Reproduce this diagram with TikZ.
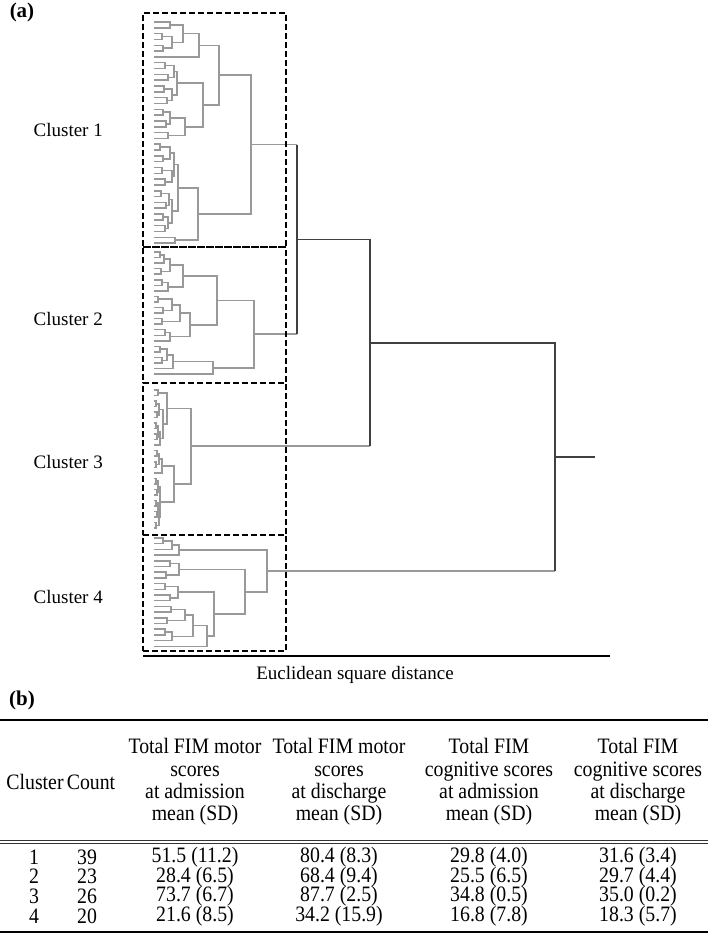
\documentclass[tikz,border=0pt]{standalone}
\usepackage{fontspec}
\setmainfont{Liberation Serif}
\newfontfamily\tabfont{Liberation Serif}[FakeStretch=0.9]
\usetikzlibrary{positioning,fit}

% one merge of the dendrogram: bar x, then top child (x,y) and bottom child (x,y)
\newcommand{\dlink}[5]{\draw[dend] (#2,#3) -- (#1,#3) -- (#1,#5) -- (#4,#5);}

\begin{document}
\begin{tikzpicture}[
  x=0.5pt, y=-0.5pt,
  font=\fontsize{9.5}{11}\selectfont,
  dend/.style={draw=gray!80, line width=0.75pt},
  trunk/.style={draw=black!75, line width=0.6pt},
  cbox/.style={draw, dash pattern=on 3pt off 1.5pt, line width=0.8pt, inner sep=0pt},
  clabel/.style={inner sep=0pt},
  panel/.style={font=\fontsize{10.5}{12}\selectfont\bfseries},
  head/.style={align=center, font=\tabfont\fontsize{11}{11.15}\selectfont},
  tcell/.style={font=\tabfont\fontsize{11}{12}\selectfont},
  rulethick/.style={line width=1pt},
  rulethin/.style={line width=0.45pt, black!80},
]
\useasboundingbox (0,0) rectangle (708,936);

\node[panel] (pa) at (22,12) {(a)};

% cluster 1
\dlink{170}{154}{22.0}{154}{27.8}
\dlink{162}{154}{33.6}{154}{39.5}
\dlink{163}{154}{45.3}{154}{51.1}
\dlink{172}{162}{36.6}{163}{48.2}
\dlink{183}{170}{24.9}{172}{42.4}
\dlink{199}{183}{33.6}{154}{56.9}
\dlink{165}{154}{62.7}{154}{68.6}
\dlink{168}{154}{74.4}{154}{80.2}
\dlink{174}{165}{65.6}{168}{77.3}
\dlink{164}{154}{86.0}{154}{91.8}
\dlink{167}{154}{97.7}{154}{103.5}
\dlink{172}{164}{88.9}{167}{100.6}
\dlink{177}{174}{71.5}{172}{94.8}
\dlink{163}{154}{109.3}{154}{115.1}
\dlink{166}{154}{120.9}{154}{126.8}
\dlink{170}{163}{112.2}{166}{123.9}
\dlink{168}{154}{132.6}{154}{138.4}
\dlink{185}{170}{118.0}{168}{135.5}
\dlink{203}{177}{83.2}{185}{126.8}
\dlink{219}{199}{45.3}{203}{105.0}
\dlink{160}{154}{144.2}{154}{150.0}
\dlink{163}{154}{155.9}{154}{161.7}
\dlink{170}{160}{147.1}{163}{158.8}
\dlink{162}{154}{167.5}{154}{173.3}
\dlink{165}{154}{179.1}{154}{185.0}
\dlink{172}{162}{170.4}{165}{182.0}
\dlink{174}{170}{153.0}{172}{176.2}
\dlink{161}{154}{190.8}{154}{196.6}
\dlink{166}{154}{202.4}{154}{208.2}
\dlink{169}{161}{193.7}{166}{205.3}
\dlink{163}{154}{214.1}{154}{219.9}
\dlink{165}{154}{225.7}{154}{231.5}
\dlink{168}{163}{217.0}{165}{228.6}
\dlink{172}{169}{199.5}{168}{222.8}
\dlink{178}{174}{164.6}{172}{211.2}
\dlink{175}{154}{237.3}{154}{243.1}
\dlink{198}{178}{187.9}{175}{240.2}
\dlink{251}{219}{75.2}{198}{214.1}

% cluster 2
\dlink{160}{154}{252.0}{154}{257.6}
\dlink{164}{160}{254.8}{154}{263.1}
\dlink{161}{154}{268.7}{154}{274.2}
\dlink{170}{164}{259.0}{161}{271.5}
\dlink{162}{154}{279.8}{154}{285.3}
\dlink{168}{162}{282.6}{154}{290.9}
\dlink{183}{170}{265.2}{168}{286.8}
\dlink{158}{154}{296.4}{154}{302.0}
\dlink{163}{154}{307.5}{154}{313.1}
\dlink{172}{158}{299.2}{163}{310.3}
\dlink{162}{154}{318.6}{154}{324.2}
\dlink{180}{172}{304.8}{162}{321.4}
\dlink{165}{154}{329.7}{154}{335.3}
\dlink{170}{165}{332.5}{154}{340.8}
\dlink{190}{180}{313.1}{170}{336.7}
\dlink{217}{183}{276.0}{190}{324.9}
\dlink{160}{154}{346.4}{154}{351.9}
\dlink{162}{154}{357.5}{154}{363.0}
\dlink{167}{160}{349.2}{162}{360.3}
\dlink{173}{167}{354.8}{154}{368.6}
\dlink{213}{173}{361.7}{154}{374.1}
\dlink{254}{217}{300.5}{213}{367.9}

% cluster 3
\dlink{158}{154}{390.0}{154}{395.5}
\dlink{156}{154}{401.0}{154}{406.6}
\dlink{157}{154}{412.1}{154}{417.6}
\dlink{159}{156}{403.8}{157}{414.9}
\dlink{156}{154}{423.1}{154}{428.6}
\dlink{157}{154}{434.2}{154}{439.7}
\dlink{158}{156}{425.9}{157}{437.0}
\dlink{160}{158}{431.5}{154}{445.2}
\dlink{163}{159}{409.4}{160}{438.4}
\dlink{167}{158}{392.8}{163}{423.9}
\dlink{157}{154}{450.7}{154}{456.2}
\dlink{156}{154}{461.8}{154}{467.3}
\dlink{159}{157}{453.5}{156}{464.6}
\dlink{162}{159}{459.1}{154}{472.8}
\dlink{156}{154}{478.3}{154}{483.8}
\dlink{157}{154}{489.4}{154}{494.9}
\dlink{158}{156}{481.1}{157}{492.2}
\dlink{156}{154}{500.4}{154}{505.9}
\dlink{157}{154}{511.4}{154}{517.0}
\dlink{158}{156}{503.2}{157}{514.2}
\dlink{156}{154}{522.5}{154}{528.0}
\dlink{159}{158}{508.7}{156}{525.3}
\dlink{160}{158}{486.7}{159}{517.0}
\dlink{174}{162}{466.0}{160}{501.9}
\dlink{191}{167}{408.4}{174}{484.0}

% cluster 4
\dlink{163}{154}{538.0}{154}{543.7}
\dlink{172}{163}{540.9}{154}{549.4}
\dlink{179}{172}{545.2}{154}{555.1}
\dlink{170}{154}{560.8}{154}{566.5}
\dlink{166}{154}{572.2}{154}{577.9}
\dlink{179}{170}{563.7}{166}{575.1}
\dlink{165}{154}{583.6}{154}{589.3}
\dlink{170}{154}{595.0}{154}{600.7}
\dlink{178}{165}{586.5}{170}{597.9}
\dlink{171}{154}{606.4}{154}{612.1}
\dlink{167}{154}{617.8}{154}{623.5}
\dlink{185}{171}{609.3}{167}{620.7}
\dlink{165}{154}{629.2}{154}{634.9}
\dlink{172}{165}{632.1}{154}{640.6}
\dlink{193}{185}{615.0}{172}{636.4}
\dlink{207}{193}{625.7}{154}{646.3}
\dlink{214}{178}{592.2}{207}{636.0}
\dlink{245}{179}{569.4}{214}{614.1}
\dlink{267}{179}{550.2}{245}{591.8}

% joins between the clusters
\draw[dend] (251,144.7) -- (297,144.7);
\draw[dend] (254,334.2) -- (297,334.2);
\draw[trunk] (297,144.7) -- (297,334.2);
\draw[dend] (191,446.2) -- (370,446.2);
\draw[trunk] (297,239.5) -- (370,239.5) -- (370,446.2);
\draw[dend] (267,571) -- (555,571);
\draw[trunk] (370,342.9) -- (555,342.9) -- (555,571);
\draw[trunk] (555,456.9) -- (595,456.9);

% cluster boxes
\node[cbox, fit={(143,13) (286,247)}] (box1) {};
\node[cbox, fit={(143,247) (286,383)}] (box2) {};
\node[cbox, fit={(143,383) (286,535)}] (box3) {};
\node[cbox, fit={(143,535) (286,651)}] (box4) {};
\node[clabel, left=19.5pt of box1] (lab1) {Cluster 1};
\node[clabel, left=19.5pt of box2, yshift=-2pt] (lab2) {Cluster 2};
\node[clabel, left=19.5pt of box3, yshift=-1.5pt] (lab3) {Cluster 3};
\node[clabel, left=19.5pt of box4, yshift=-2pt] (lab4) {Cluster 4};

\draw[line width=0.6pt] (143,656) -- (610,656);
\node (xlab) at (355,675) {Euclidean square distance};

% table
\node[panel] (pb) at (22,700) {(b)};
\draw[rulethick] (0,720) -- (708,720);
\node[head] (hclus) at (35,782) {Cluster};
\node[head] (hcount) at (91,782) {Count};
\node[head] (hmadm) at (195,782) {Total FIM motor\\scores\\at admission\\mean (SD)};
\node[head] (hmdis) at (339,782) {Total FIM motor\\scores\\at discharge\\mean (SD)};
\node[head] (hcadm) at (489,782) {Total FIM\\cognitive scores\\at admission\\mean (SD)};
\node[head] (hcdis) at (638,782) {Total FIM\\cognitive scores\\at discharge\\mean (SD)};
\draw[rulethin] (0,840) -- (708,840);
\draw[rulethin] (0,843.5) -- (708,843.5);

\node[tcell] (r1cl) at (34,857) {1};
\node[tcell] (r1n) at (87,857) {39};
\node[tcell] (r1ma) at (hmadm |- r1cl) {51.5 (11.2)};
\node[tcell] (r1md) at (hmdis |- r1cl) {80.4 (8.3)};
\node[tcell] (r1ca) at (hcadm |- r1cl) {29.8 (4.0)};
\node[tcell] (r1cd) at (hcdis |- r1cl) {31.6 (3.4)};

\node[tcell] (r2cl) at (34,876.7) {2};
\node[tcell] (r2n) at (87,876.7) {23};
\node[tcell] (r2ma) at (hmadm |- r2cl) {28.4 (6.5)};
\node[tcell] (r2md) at (hmdis |- r2cl) {68.4 (9.4)};
\node[tcell] (r2ca) at (hcadm |- r2cl) {25.5 (6.5)};
\node[tcell] (r2cd) at (hcdis |- r2cl) {29.7 (4.4)};

\node[tcell] (r3cl) at (34,896.3) {3};
\node[tcell] (r3n) at (87,896.3) {26};
\node[tcell] (r3ma) at (hmadm |- r3cl) {73.7 (6.7)};
\node[tcell] (r3md) at (hmdis |- r3cl) {87.7 (2.5)};
\node[tcell] (r3ca) at (hcadm |- r3cl) {34.8 (0.5)};
\node[tcell] (r3cd) at (hcdis |- r3cl) {35.0 (0.2)};

\node[tcell] (r4cl) at (34,916) {4};
\node[tcell] (r4n) at (87,916) {20};
\node[tcell] (r4ma) at (hmadm |- r4cl) {21.6 (8.5)};
\node[tcell] (r4md) at (hmdis |- r4cl) {34.2 (15.9)};
\node[tcell] (r4ca) at (hcadm |- r4cl) {16.8 (7.8)};
\node[tcell] (r4cd) at (hcdis |- r4cl) {18.3 (5.7)};
\draw[rulethick] (0,932) -- (708,932);

\end{tikzpicture}
\end{document}
